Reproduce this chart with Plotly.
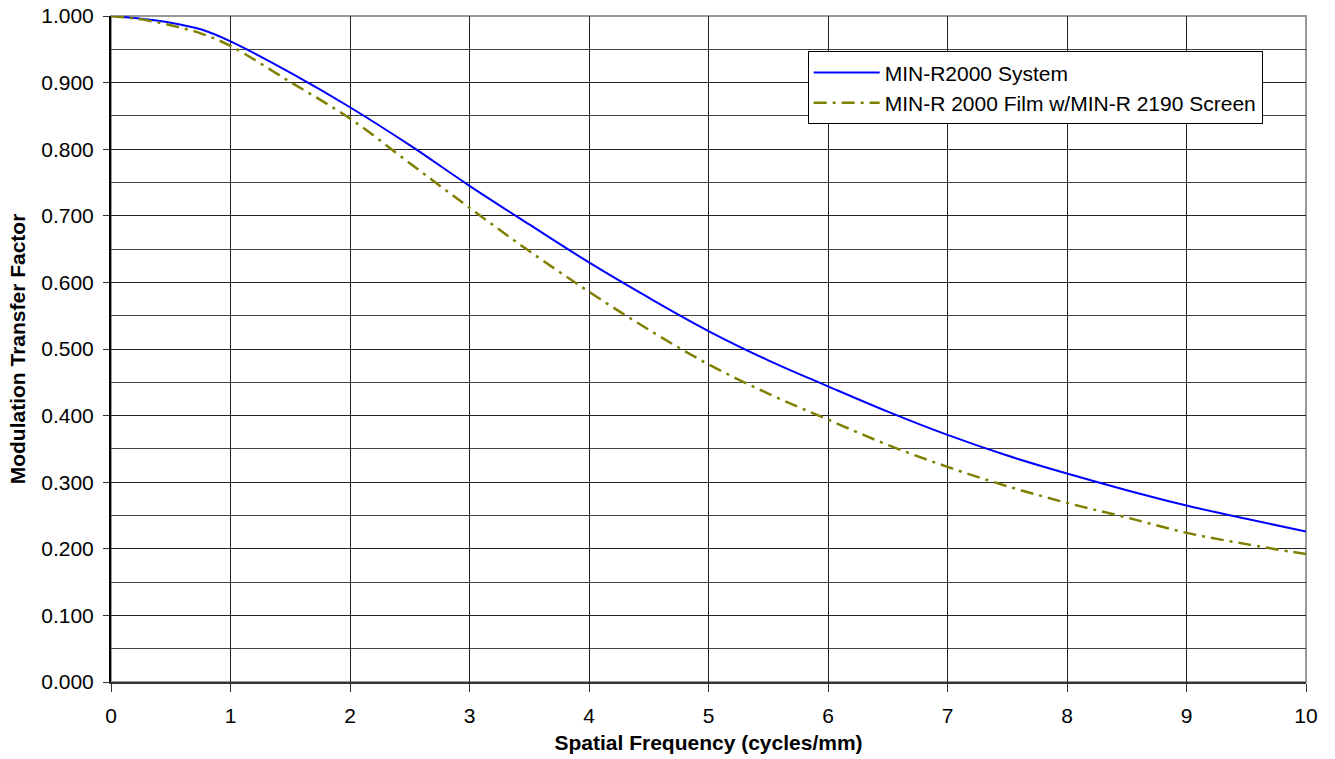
import plotly.graph_objects as go

freq = [0, 0.25, 0.5, 0.75, 1.0, 1.5, 2.0, 2.5, 3.0, 3.5, 4.0, 4.5, 5.0, 5.5, 6.0, 6.5, 7.0, 7.5, 8.0, 8.5, 9.0, 9.5, 10.0]
system_mtf = [1.000, 0.996, 0.990, 0.980, 0.962, 0.915, 0.863, 0.806, 0.745, 0.687, 0.630, 0.577, 0.527, 0.483, 0.444, 0.406, 0.371, 0.340, 0.313, 0.288, 0.265, 0.245, 0.226]
film_mtf = [1.000, 0.995, 0.986, 0.974, 0.955, 0.901, 0.846, 0.779, 0.712, 0.647, 0.586, 0.529, 0.477, 0.433, 0.394, 0.356, 0.323, 0.294, 0.269, 0.247, 0.224, 0.207, 0.192]

fig = go.Figure()
fig.add_trace(go.Scatter(x=freq, y=system_mtf, mode="lines", name="MIN-R2000 System",
                         line=dict(color="#0000FF", width=2, shape="spline")))
fig.add_trace(go.Scatter(x=freq, y=film_mtf, mode="lines", name="MIN-R 2000 Film w/MIN-R 2190 Screen",
                         line=dict(color="#808000", width=2.5, dash="13px,6px,3px,6px", shape="spline")))

FAM = "Liberation Sans, Arial, sans-serif"
font = dict(family=FAM, size=21, color="black")
fig.update_layout(
    width=1335, height=759,
    margin=dict(l=111, r=29, t=16, b=77, autoexpand=False),
    paper_bgcolor="white", plot_bgcolor="white",
    font=font,
    showlegend=True,
    legend=dict(x=0.583, y=0.947, xanchor="left", yanchor="top",
                bordercolor="black", borderwidth=1, bgcolor="white",
                font=dict(family=FAM, size=21, color="black"),
                tracegroupgap=0, itemwidth=66),
    xaxis=dict(range=[0, 10], dtick=1, tick0=0, showgrid=True, gridcolor="#222", gridwidth=1,
               showline=True, linecolor="#333", linewidth=2, mirror=False,
               ticks="outside", ticklen=8, tickcolor="#333", zeroline=False,
               ticklabelstandoff=6, automargin=False,
               title=dict(text="<b>Spatial Frequency (cycles/mm)</b>", standoff=9, font=font),
               tickfont=font),
    yaxis=dict(range=[0, 1], dtick=0.1, tick0=0, tickformat=".3f", showgrid=True,
               gridcolor="#222", gridwidth=1,
               minor=dict(dtick=0.05, showgrid=True, gridcolor="#444", gridwidth=1, ticks=""),
               showline=True, linecolor="black", linewidth=2,
               ticks="outside", ticklen=6, tickcolor="#333", zeroline=False,
               ticklabelstandoff=5, ticklabeloverflow="allow", automargin=False,
               title=dict(text="<b>Modulation Transfer Factor</b>", standoff=10, font=font),
               tickfont=font),
)
fig.add_shape(type="rect", xref="paper", yref="paper", x0=0, y0=0, x1=1, y1=1,
              line=dict(color="#999", width=2), layer="below")

fig.write_html("out.html", config={"displayModeBar": False},
               post_script="document.body.style.margin='0';document.body.style.overflow='hidden';")
